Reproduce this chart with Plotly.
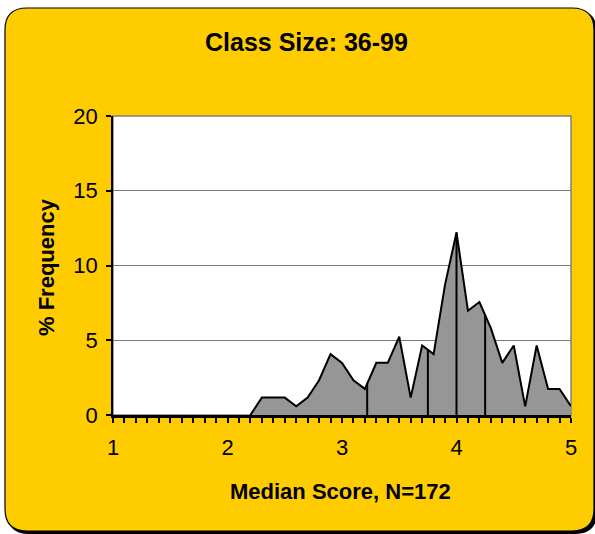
import numpy as np
import plotly.graph_objects as go

# median score bins and respondent counts (N=172)
scores = [2.2, 2.3, 2.4, 2.5, 2.6, 2.7, 2.8, 2.9, 3.0, 3.1, 3.2, 3.3, 3.4, 3.5,
          3.6, 3.7, 3.8, 3.9, 4.0, 4.1, 4.2, 4.3, 4.4, 4.5, 4.6, 4.7, 4.8, 4.9, 5.0]
counts = [0, 2, 2, 2, 1, 2, 4, 7, 6, 4, 3, 6, 6, 9,
          2, 8, 7, 15, 21, 12, 13, 10, 6, 8, 1, 8, 3, 3, 1]
n_total = 172
pct = [c / n_total * 100 for c in counts]

# vertical reference lines drawn inside the area
ref_scores = [3.22, 3.75, 4.0, 4.25]

x_ticks = [1, 2, 3, 4, 5]
y_ticks = [0, 5, 10, 15, 20]

W, H = 595, 534
L, R, T, B = 113, 24, 116, 119
pw, ph = W - L - R, H - T - B


def px(x):
    return (x - L) / pw


def py(y):
    return (H - B - y) / ph


def rounded(x0, y0, x1, y1, r):
    a, b, c, d = px(x0), px(x1), py(y0), py(y1)
    rx, ry = r / pw, r / ph
    return (f"M {a+rx},{c} L {b-rx},{c} Q {b},{c} {b},{c-ry} "
            f"L {b},{d+ry} Q {b},{d} {b-rx},{d} "
            f"L {a+rx},{d} Q {a},{d} {a},{d+ry} "
            f"L {a},{c-ry} Q {a},{c} {a+rx},{c} Z")


fig = go.Figure()

fig.add_trace(go.Scatter(
    x=scores, y=pct,
    mode='lines',
    fill='tozeroy',
    fillcolor='#969696',
    line=dict(color='black', width=2),
    hoverinfo='skip',
    showlegend=False
))

# drop lines from the axis up to the curve
ref_h = np.interp(ref_scores, scores, pct)
vx, vy = [], []
for s, h in zip(ref_scores, ref_h):
    vx += [s, s, None]
    vy += [0, h, None]
fig.add_trace(go.Scatter(
    x=vx, y=vy, mode='lines',
    line=dict(color='black', width=2),
    hoverinfo='skip', showlegend=False
))

shapes = [
    # shadow
    dict(type='path', xref='paper', yref='paper', layer='below',
         path=rounded(7, 10, 597, 534, 22), fillcolor='black', line=dict(width=0)),
    # yellow frame
    dict(type='path', xref='paper', yref='paper', layer='below',
         path=rounded(5, 8, 594, 531, 22), fillcolor='#FFCC00',
         line=dict(color='black', width=1.2)),
    # plot area
    dict(type='rect', xref='paper', yref='paper', layer='below',
         x0=0, x1=1, y0=0, y1=1, fillcolor='white',
         line=dict(color='#808080', width=1.5)),
]

annotations = [
    dict(text='<b>Class Size: 36-99</b>', x=px(306), y=py(42), xref='paper', yref='paper',
         showarrow=False, xanchor='center', yanchor='middle',
         font=dict(size=25, color='black')),
    dict(text='<b>Median Score, N=172</b>', x=px(340), y=py(491), xref='paper', yref='paper',
         showarrow=False, xanchor='center', yanchor='middle',
         font=dict(size=22, color='black')),
    dict(text='<b>% Frequency</b>', x=px(46), y=py(267), xref='paper', yref='paper',
         showarrow=False, xanchor='center', yanchor='middle', textangle=-90,
         font=dict(size=22, color='black')),
]

fig.update_layout(
    width=W, height=H,
    margin=dict(l=L, r=R, t=T, b=B, pad=0),
    paper_bgcolor='white',
    plot_bgcolor='rgba(0,0,0,0)',
    font=dict(family='Liberation Sans, Arial, sans-serif', size=22, color='black'),
    shapes=shapes,
    annotations=annotations,
    xaxis=dict(
        range=[1, 5], tickvals=x_ticks, ticktext=[str(v) for v in x_ticks],
        showgrid=False, zeroline=False,
        showline=True, linecolor='black', linewidth=2.5,
        ticks='outside', ticklen=5, tickcolor='black', tickwidth=1.5,
        minor=dict(dtick=0.1, tick0=1, ticks='outside', ticklen=5,
                   tickcolor='black', tickwidth=1.5, showgrid=False),
        tickfont=dict(size=22), ticklabelstandoff=6, fixedrange=True
    ),
    yaxis=dict(
        range=[0, 20], tickvals=y_ticks,
        showgrid=True, gridcolor='#7a7a7a', gridwidth=1.3, zeroline=False,
        showline=True, linecolor='black', linewidth=1.5,
        ticks='outside', ticklen=5, tickcolor='black', tickwidth=1.5,
        tickfont=dict(size=22), ticklabelstandoff=4, fixedrange=True
    ),
)

fig.write_html("out.html", config={'displayModeBar': False},
               post_script="document.body.style.margin='0px';")
